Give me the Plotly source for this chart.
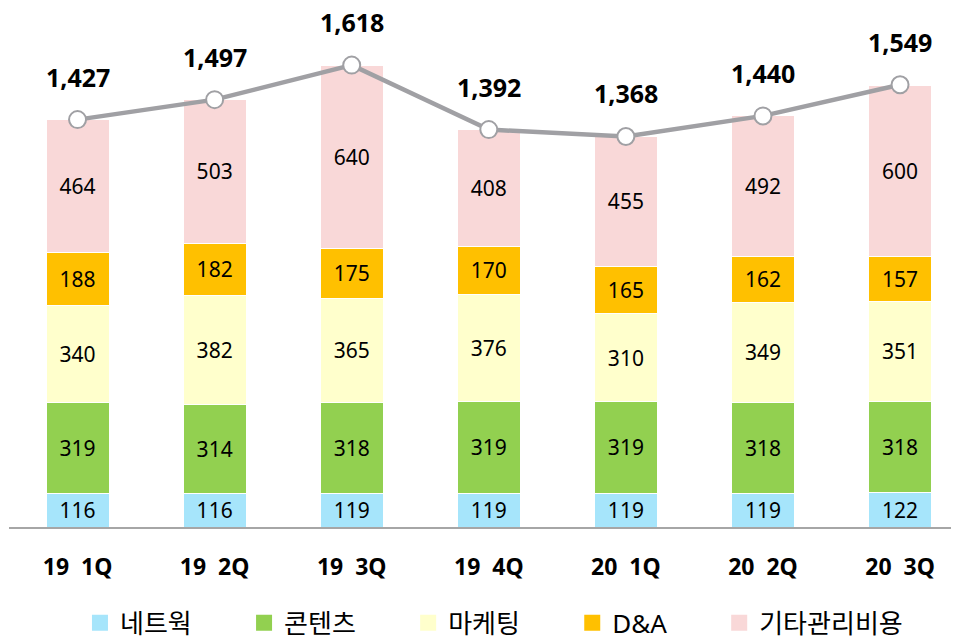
import plotly.graph_objects as go

categories = ["19  1Q", "19  2Q", "19  3Q", "19  4Q", "20  1Q", "20  2Q", "20  3Q"]
network = [116, 116, 119, 119, 119, 119, 122]
contents = [319, 314, 318, 319, 319, 318, 318]
marketing = [340, 382, 365, 376, 310, 349, 351]
da = [188, 182, 175, 170, 165, 162, 157]
other = [464, 503, 640, 408, 455, 492, 600]
totals = [1427, 1497, 1618, 1392, 1368, 1440, 1549]
legend_names = ["네트웍", "콘텐츠", "마케팅", "D&A", "기타관리비용"]

colors = ["#A6E5FB", "#92D050", "#FFFFCC", "#FFC000", "#F9D8D8"]
series_values = [network, contents, marketing, da, other]

font_family = "Noto Sans, Open Sans, Noto Sans CJK KR, sans-serif"
pad = "\u00a0" * 7

fig = go.Figure()
for name, vals, color in zip(legend_names, series_values, colors):
    fig.add_trace(go.Bar(
        x=categories, y=vals, name=name,
        marker=dict(color=color, line=dict(color="white", width=1)),
        width=0.46,
        text=[str(v) for v in vals],
        textposition="inside", insidetextanchor="middle",
        textfont=dict(size=21, color="#000000", family=font_family),
        textangle=0,
        hoverinfo="skip", showlegend=False,
    ))

fig.add_trace(go.Scatter(
    x=categories, y=totals, mode="lines+markers",
    line=dict(color="#A0A0A4", width=4.5),
    marker=dict(size=17, color="white", line=dict(color="#A0A0A4", width=2)),
    showlegend=False, hoverinfo="skip",
))

# legend proxies (square swatches)
for i, (name, color) in enumerate(zip(legend_names, colors)):
    label = name if i == len(legend_names) - 1 else name + pad
    fig.add_trace(go.Scatter(
        x=[None], y=[None], mode="markers", name=label,
        marker=dict(symbol="square", size=16, color=color),
        showlegend=True, hoverinfo="skip",
    ))

for c, t in zip(categories, totals):
    fig.add_annotation(
        x=c, y=t, text=f"<b>{t:,}</b>", showarrow=False,
        yshift=43, font=dict(size=25, color="#000000", family=font_family),
    )

fig.update_layout(
    barmode="stack",
    width=951, height=628,
    margin=dict(l=1, r=0, t=0, b=109),
    plot_bgcolor="white", paper_bgcolor="white",
    font=dict(family=font_family, color="#000000"),
    uniformtext=dict(minsize=21, mode="show"),
    showlegend=True,
    legend=dict(
        orientation="h", x=0.0747, xanchor="left",
        yref="container", y=0.021, yanchor="middle",
        font=dict(size=26, family=font_family, color="#000000"),
        traceorder="normal", itemsizing="trace",
        itemwidth=30,
    ),
    xaxis=dict(
        range=[-0.5, 6.43], showgrid=False, ticks="",
        showline=True, linecolor="#A6A6A6", linewidth=2,
        tickfont=dict(size=23, family=font_family, color="#000000"),
        ticklabelstandoff=18,
        tickprefix="<b>", ticksuffix="</b>",
    ),
    yaxis=dict(
        range=[0, 1818], showgrid=False, showticklabels=False, zeroline=False,
        showline=False, ticks="",
    ),
)

fig.write_html("out.html")
